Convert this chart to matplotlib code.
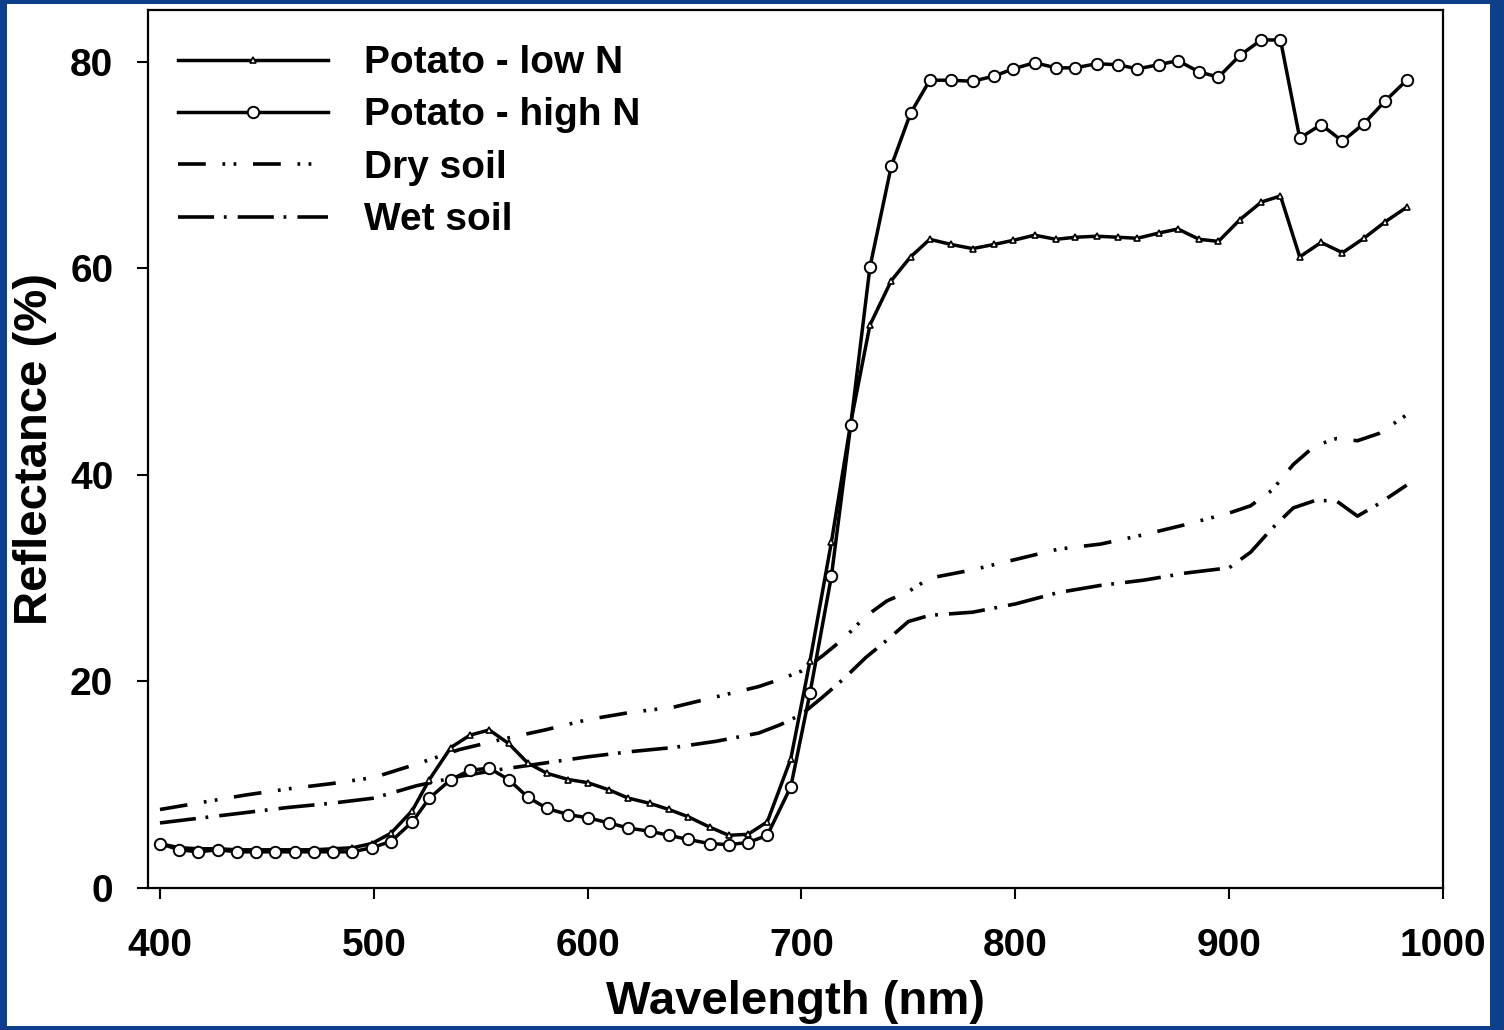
import matplotlib
matplotlib.use("Agg")
import matplotlib.pyplot as plt
from matplotlib.patches import Rectangle

# band centres (nm) of the potato spectra
wl = [400, 409, 418, 427, 436, 445, 454, 463, 472, 481, 490, 499, 508, 518, 526,
      536, 545, 554, 563, 572, 581, 591, 600, 610, 619, 629, 638, 647, 657, 666,
      675, 684, 695, 704, 714, 723, 732, 742, 751, 760, 770, 780, 790, 799, 809,
      819, 828, 838, 848, 857, 867, 876, 886, 895, 905, 915, 924, 933, 943, 953,
      963, 973, 983]
high_n = [4.3, 3.7, 3.5, 3.7, 3.5, 3.5, 3.5, 3.5, 3.5, 3.5, 3.5, 3.9, 4.5, 6.4, 8.7,
          10.5, 11.4, 11.6, 10.5, 8.8, 7.7, 7.1, 6.8, 6.3, 5.8, 5.5, 5.1, 4.7, 4.3, 4.2,
          4.4, 5.1, 9.8, 18.9, 30.2, 44.8, 60.1, 69.9, 75.0, 78.2, 78.2, 78.1, 78.6, 79.3, 79.9,
          79.4, 79.4, 79.8, 79.7, 79.3, 79.7, 80.1, 79.0, 78.5, 80.6, 82.1, 82.1, 72.6, 73.9, 72.3,
          74.0, 76.2, 78.2]
low_n = [4.3, 3.9, 3.8, 3.8, 3.7, 3.7, 3.7, 3.7, 3.7, 3.8, 3.9, 4.3, 5.3, 7.5, 10.5,
         13.6, 14.8, 15.3, 14.0, 12.1, 11.1, 10.5, 10.2, 9.5, 8.7, 8.2, 7.6, 6.9, 5.9, 5.1,
         5.2, 6.4, 12.5, 22.0, 33.5, 45.0, 54.5, 58.8, 61.1, 62.8, 62.3, 61.9, 62.3, 62.7, 63.2,
         62.8, 63.0, 63.1, 63.0, 62.9, 63.4, 63.8, 62.8, 62.6, 64.7, 66.4, 67.0, 61.1, 62.5, 61.5,
         62.9, 64.5, 65.9]

soil_wl = [400, 420, 440, 460, 480, 500, 520, 540, 560, 580, 600, 620, 640, 660, 680,
           690, 700, 710, 720, 730, 740, 750, 760, 780, 800, 820, 840, 860, 880, 900,
           910, 920, 930, 940, 950, 960, 970, 983]
dry_soil = [7.6, 8.3, 9.0, 9.6, 10.1, 10.7, 12.0, 13.4, 14.4, 15.3, 16.3, 17.0, 17.5, 18.5, 19.5,
            20.2, 21.0, 22.5, 24.2, 26.3, 27.8, 28.7, 30.0, 30.8, 31.8, 32.8, 33.3, 34.2, 35.2, 36.3,
            37.0, 38.5, 41.0, 42.8, 43.5, 43.3, 44.0, 45.8]
wet_soil = [6.3, 6.8, 7.3, 7.8, 8.2, 8.7, 9.9, 10.8, 11.5, 12.1, 12.7, 13.2, 13.6, 14.2, 15.0,
            15.8, 16.8, 18.5, 20.3, 22.3, 24.0, 25.8, 26.4, 26.7, 27.5, 28.6, 29.3, 29.8, 30.5, 31.0,
            32.5, 34.8, 36.8, 37.5, 37.5, 36.0, 37.2, 39.0]

xticks = [400, 500, 600, 700, 800, 900, 1000]
yticks = [0, 20, 40, 60, 80]

plt.rcParams["font.family"] = ["Liberation Sans", "DejaVu Sans"]
plt.rcParams["font.weight"] = "bold"
plt.rcParams["lines.scale_dashes"] = False

W, H = 1504, 1030
fig = plt.figure(figsize=(W / 100, H / 100), dpi=100, facecolor="#0d3f8a")
fig.patches.append(Rectangle((7 / W, 4 / H), (1490 - 7) / W, (1026 - 4) / H,
                             transform=fig.transFigure, facecolor="white",
                             edgecolor="none", zorder=-10))
ax = fig.add_axes([148 / W, 1 - 888 / H, (1443 - 148) / W, (888 - 10) / H], zorder=5)
ax.patch.set_alpha(0)

ax.plot(soil_wl, dry_soil, color="black", lw=2.6, dashes=(20, 12, 2, 6, 2, 12),
        label="Dry soil", zorder=2)
ax.plot(soil_wl, wet_soil, color="black", lw=2.6, dashes=(26, 7, 2, 8),
        label="Wet soil", zorder=2)
ax.plot(wl, low_n, color="black", lw=2.5, marker="^", ms=5, mfc="white", mew=1.2,
        label="Potato - low N", zorder=3)
ax.plot(wl, high_n, color="black", lw=2.5, marker="o", ms=8.2, mfc="white", mew=1.4,
        label="Potato - high N", zorder=4)

ax.set_xlim(394.4, 1000)
ax.set_ylim(0, 85)
ax.set_xticks(xticks)
ax.set_yticks(yticks)
ax.tick_params(direction="out", length=8, width=1.5, labelsize=28)
ax.tick_params(axis="x", pad=21)
ax.tick_params(axis="y", pad=17)
for s in ax.spines.values():
    s.set_linewidth(1.6)

ax.set_xlabel("Wavelength (nm)", fontsize=34, fontweight="bold", labelpad=11)
ax.set_ylabel("Reflectance (%)", fontsize=34, fontweight="bold", labelpad=9)

h, l = ax.get_legend_handles_labels()
order = [2, 3, 0, 1]
ax.legend([h[i] for i in order], [l[i] for i in order], loc="upper left",
          bbox_to_anchor=(0.023, 0.96), frameon=False, fontsize=28, numpoints=1,
          handlelength=3.85, handletextpad=0.95, labelspacing=0.42,
          borderpad=0, borderaxespad=0)

fig.savefig("out.png", dpi=100, facecolor=fig.get_facecolor())
